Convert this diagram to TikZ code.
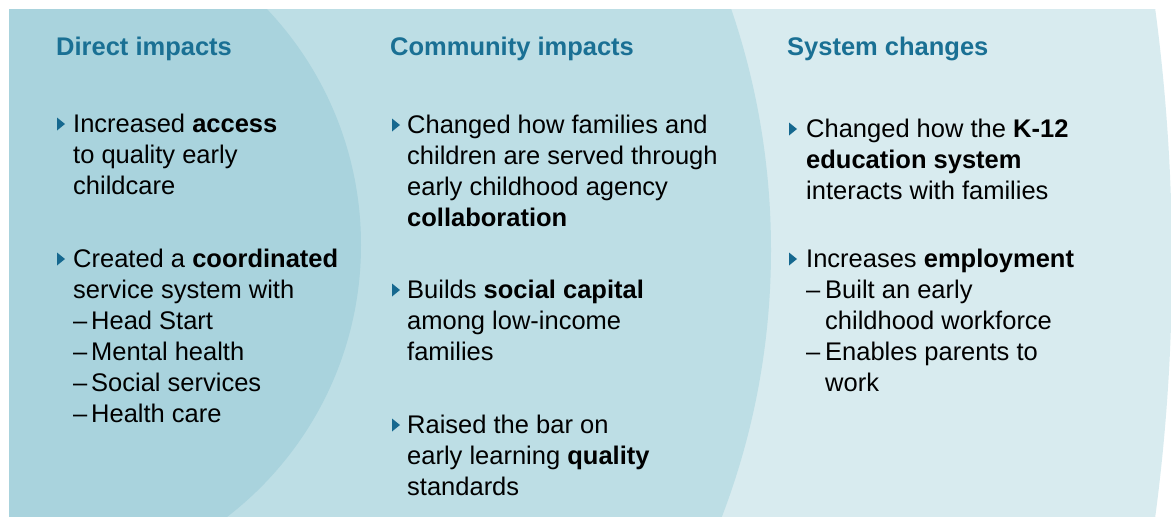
\documentclass[tikz,border=0pt]{standalone}
\usepackage{fontspec}
\setmainfont{Liberation Sans}
\definecolor{darkc}{HTML}{A9D3DD}
\definecolor{midc}{HTML}{BDDEE5}
\definecolor{lightc}{HTML}{D8EBEF}
\definecolor{titleblue}{HTML}{1A7094}
\definecolor{bulletblue}{HTML}{15688F}
\newcommand\bultri[2]{\fill[bulletblue] (#1,#2-14.5) -- (#1,#2-1.5) -- (#1+8,#2-8) -- cycle;}
\newcommand\subdash[1]{\makebox[#1][l]{–}}
\begin{document}
\begin{tikzpicture}[x=1pt,y=-1pt,
  txt/.style={anchor=base west, inner sep=0pt, font=\fontsize{25.5}{31}\selectfont, text=black},
  ttl/.style={anchor=base west, inner sep=0pt, font=\fontsize{25.5}{31}\selectfont\bfseries, text=titleblue}]
\useasboundingbox (0,0) rectangle (1171,517);
\begin{scope}
\clip (9,9) rectangle (1171,517);
\fill[lightc] (-734,263) circle (1906pt);
\fill[midc] (25,250) circle (746pt);
\fill[darkc] (18,245) circle (343pt);
\end{scope}
% column 1
\node[ttl] (t1) at (56,55) {Direct impacts};
\bultri{57}{132}
\node[txt] (a1) at (73,132) {Increased \textbf{access}};
\node[txt] (a2) at (73,163) {to quality early};
\node[txt] (a3) at (73,194) {childcare};
\bultri{57}{267}
\node[txt] (b1) at (73,267) {Created a \textbf{coordinated}};
\node[txt] (b2) at (73,298) {service system with};
\node[txt] (b3) at (73,329) {\subdash{18pt}Head Start};
\node[txt] (b4) at (73,360) {\subdash{18pt}Mental health};
\node[txt] (b5) at (73,391) {\subdash{18pt}Social services};
\node[txt] (b6) at (73,422) {\subdash{18pt}Health care};
% column 2
\node[ttl] (t2) at (390,55) {Community impacts};
\bultri{392}{133}
\node[txt] (c1) at (407,133) {Changed how families and};
\node[txt] (c2) at (407,164) {children are served through};
\node[txt] (c3) at (407,195) {early childhood agency};
\node[txt] (c4) at (407,226) {\textbf{collaboration}};
\bultri{392}{298}
\node[txt] (d1) at (407,298) {Builds \textbf{social capital}};
\node[txt] (d2) at (407,329) {among low-income};
\node[txt] (d3) at (407,360) {families};
\bultri{392}{433}
\node[txt] (e1) at (407,433) {Raised the bar on};
\node[txt] (e2) at (407,464) {early learning \textbf{quality}};
\node[txt] (e3) at (407,495) {standards};
% column 3
\node[ttl] (t3) at (787,55) {System changes};
\bultri{789}{137}
\node[txt] (f1) at (806,137) {Changed how the \textbf{K-12}};
\node[txt] (f2) at (806,168) {\textbf{education system}};
\node[txt] (f3) at (806,199) {interacts with families};
\bultri{789}{267}
\node[txt] (g1) at (806,267) {Increases \textbf{employment}};
\node[txt] (g2) at (806,298) {\subdash{19pt}Built an early};
\node[txt] (g3) at (825,329) {childhood workforce};
\node[txt] (g4) at (806,360) {\subdash{19pt}Enables parents to};
\node[txt] (g5) at (825,391) {work};
\end{tikzpicture}
\end{document}
